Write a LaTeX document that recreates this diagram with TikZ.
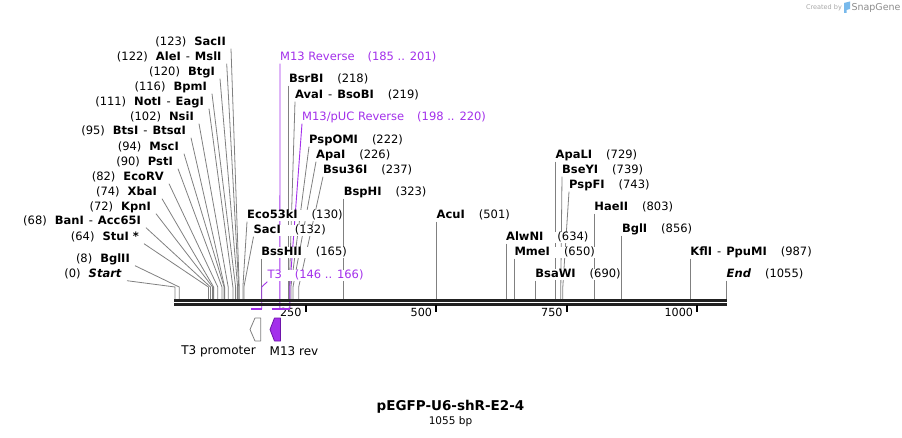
\documentclass[tikz,border=0pt]{standalone}
\usepackage{fontspec}
\setmainfont{DejaVu Sans}
\usetikzlibrary{calc}
\pgfdeclarelayer{bg}
\pgfsetlayers{bg,main}
\definecolor{primer}{RGB}{163,48,235}
\definecolor{primerdark}{RGB}{110,20,170}
\definecolor{sitegray}{RGB}{128,128,128}
\definecolor{snapblue}{RGB}{120,185,235}
\newcommand{\lsite}[2]{(#1)\hspace{8pt}\textbf{#2}}
\newcommand{\rsite}[2]{\textbf{#1}\hspace{14pt}(#2)}
\newcommand{\sdash}{\hspace{5pt}-\hspace{5pt}}

\begin{document}
\begin{tikzpicture}[x=1pt, y=-1pt, line join=round]
\tikzstyle{lab}=[inner sep=0, fill=white, yshift=-1pt, text height=8.5pt, text depth=2.5pt, font=\fontsize{11.5}{13}\selectfont]
\tikzstyle{labl}=[lab, anchor=east]
\tikzstyle{labr}=[lab, anchor=west]
\tikzstyle{plab}=[labr, text=primer]
\tikzstyle{cut}=[draw=sitegray, line width=0.8pt]
\tikzstyle{pline}=[draw=primer, line width=0.9pt]
\tikzstyle{pbar}=[draw=primer, line width=2.5pt]
\tikzstyle{dna}=[draw=black!87, line width=2.5pt]
\tikzstyle{tick}=[draw=black, line width=2pt]
\tikzstyle{ticklab}=[anchor=east, inner sep=0, xshift=-3pt, font=\fontsize{11.2}{13}\selectfont]
\tikzstyle{featlab}=[inner sep=0, font=\fontsize{12}{14}\selectfont]

\useasboundingbox (0,0) rectangle (902,438);

% sequence ends
\coordinate (s0) at (174,300.5);
\coordinate (s1) at (727,300.5);

% sites left of the fan
\node[labl] (SacII) at (226,42) {\lsite{123}{SacII}};
\node[labl] (AleI) at (221.7,57) {\lsite{122}{AleI}\sdash\textbf{MslI}};
\node[labl] (BtgI) at (215,72) {\lsite{120}{BtgI}};
\node[labl] (BpmI) at (207,87) {\lsite{116}{BpmI}};
\node[labl] (NotI) at (204,102) {\lsite{111}{NotI}\sdash\textbf{EagI}};
\node[labl] (NsiI) at (194,117) {\lsite{102}{NsiI}};
\node[labl] (BtsI) at (186,131) {\lsite{95}{BtsI}\sdash\textbf{BtsαI}};
\node[labl] (MscI) at (179,147) {\lsite{94}{MscI}};
\node[labl] (PstI) at (173,162) {\lsite{90}{PstI}};
\node[labl] (EcoRV) at (164,177) {\lsite{82}{EcoRV}};
\node[labl] (XbaI) at (157,192) {\lsite{74}{XbaI}};
\node[labl] (KpnI) at (151,207) {\lsite{72}{KpnI}};
\node[labl] (BanI) at (141,221) {\lsite{68}{BanI}\sdash\textbf{Acc65I}};
\node[labl] (StuI) at (139,237) {\lsite{64}{StuI *}};
\node[labl] (BglII) at (130,259) {\lsite{8}{BglII}};
\node[labl] (Start) at (122,274) {(0)\hspace{8pt}\textbf{\textit{Start}}};

\coordinate (SacII-t) at (239.2,287);
\coordinate (AleI-t) at (238.7,287);
\coordinate (BtgI-t) at (237.6,287);
\coordinate (BpmI-t) at (235.6,287);
\coordinate (NotI-t) at (232.9,287);
\coordinate (NsiI-t) at (228.2,287);
\coordinate (BtsI-t) at (224.6,287);
\coordinate (MscI-t) at (224.1,287);
\coordinate (PstI-t) at (222.0,287);
\coordinate (EcoRV-t) at (217.8,287);
\coordinate (XbaI-t) at (213.6,287);
\coordinate (KpnI-t) at (212.6,287);
\coordinate (BanI-t) at (210.5,287);
\coordinate (StuI-t) at (208.4,287);
\coordinate (BglII-t) at (179.2,287);
\coordinate (Start-t) at (175.0,287);

% sites right of the fan
\node[labr] (BsrBI) at (288.8,79) {\rsite{BsrBI}{218}};
\node[labr] (AvaI) at (295,95) {\textbf{AvaI}\sdash\textbf{BsoBI}\hspace{14pt}(219)};
\node[labr] (PspOMI) at (309,140) {\rsite{PspOMI}{222}};
\node[labr] (ApaI) at (316,155) {\rsite{ApaI}{226}};
\node[labr] (Bsu36I) at (323,170) {\rsite{Bsu36I}{237}};
\node[labr] (BspHI) at (343.6,192) {\rsite{BspHI}{323}};
\node[labr] (Eco53kI) at (247,215) {\rsite{Eco53kI}{130}};
\node[labr] (SacI) at (253.5,230) {\rsite{SacI}{132}};
\node[labr] (BssHII) at (261.1,252) {\rsite{BssHII}{165}};
\node[labr] (AcuI) at (436.5,215) {\rsite{AcuI}{501}};
\node[labr] (AlwNI) at (505.9,237) {\rsite{AlwNI}{634}};
\node[labr] (MmeI) at (514.3,252) {\rsite{MmeI}{650}};
\node[labr] (BsaWI) at (535.2,274) {\rsite{BsaWI}{690}};
\node[labr] (ApaLI) at (555.5,155) {\rsite{ApaLI}{729}};
\node[labr] (BseYI) at (562,170) {\rsite{BseYI}{739}};
\node[labr] (PspFI) at (569,185) {\rsite{PspFI}{743}};
\node[labr] (HaeII) at (594.2,207) {\rsite{HaeII}{803}};
\node[labr] (BglI) at (621.8,229) {\rsite{BglI}{856}};
\node[labr] (KflI) at (690.2,252) {\textbf{KflI}\sdash\textbf{PpuMI}\hspace{14pt}(987)};
\node[labr] (End) at (726.5,274) {\rsite{\textit{End}}{1055}};

\coordinate (AvaI-t) at (289.3,287);
\coordinate (PspOMI-t) at (290.9,287);
\coordinate (ApaI-t) at (293.0,287);
\coordinate (Bsu36I-t) at (298.7,287);
\coordinate (Eco53kI-t) at (242.9,287);
\coordinate (SacI-t) at (243.9,287);
\coordinate (BseYI-t) at (560.8,287);
\coordinate (PspFI-t) at (562.8,287);

% primers
\node[plab] (M13R) at (280,57) {M13 Reverse\hspace{13pt}(185 .. 201)};
\node[plab] (M13pUC) at (302,117) {M13/pUC Reverse\hspace{13pt}(198 .. 220)};
\node[plab] (T3) at (267.3,275) {T3\hspace{13pt}(146 .. 166)};

\coordinate (M13R-s) at (271.6,309);
\coordinate (M13R-e) at (279.9,309);
\coordinate (M13pUC-s) at (278.4,309);
\coordinate (M13pUC-e) at (289.8,309);
\coordinate (M13pUC-t) at (289.8,287);
\coordinate (T3-s) at (251.2,309);
\coordinate (T3-e) at (261.7,309);
\coordinate (T3-t) at (261.7,287);

\begin{pgfonlayer}{bg}
\draw[cut] ([xshift=5pt]SacII.south east) -- (SacII-t) -- (SacII-t |- s0);
\draw[cut] ([xshift=5pt]AleI.south east) -- (AleI-t) -- (AleI-t |- s0);
\draw[cut] ([xshift=5pt]BtgI.south east) -- (BtgI-t) -- (BtgI-t |- s0);
\draw[cut] ([xshift=5pt]BpmI.south east) -- (BpmI-t) -- (BpmI-t |- s0);
\draw[cut] ([xshift=5pt]NotI.south east) -- (NotI-t) -- (NotI-t |- s0);
\draw[cut] ([xshift=5pt]NsiI.south east) -- (NsiI-t) -- (NsiI-t |- s0);
\draw[cut] ([xshift=5pt]BtsI.south east) -- (BtsI-t) -- (BtsI-t |- s0);
\draw[cut] ([xshift=5pt]MscI.south east) -- (MscI-t) -- (MscI-t |- s0);
\draw[cut] ([xshift=5pt]PstI.south east) -- (PstI-t) -- (PstI-t |- s0);
\draw[cut] ([xshift=5pt]EcoRV.south east) -- (EcoRV-t) -- (EcoRV-t |- s0);
\draw[cut] ([xshift=5pt]XbaI.south east) -- (XbaI-t) -- (XbaI-t |- s0);
\draw[cut] ([xshift=5pt]KpnI.south east) -- (KpnI-t) -- (KpnI-t |- s0);
\draw[cut] ([xshift=5pt]BanI.south east) -- (BanI-t) -- (BanI-t |- s0);
\draw[cut] ([xshift=5pt]StuI.south east) -- (StuI-t) -- (StuI-t |- s0);
\draw[cut] ([xshift=5pt]BglII.south east) -- (BglII-t) -- (BglII-t |- s0);
\draw[cut] ([xshift=5pt]Start.south east) -- (Start-t) -- (Start-t |- s0);

\draw[cut] (BsrBI.south west) -- (BsrBI.south west |- s0);
\draw[cut] (AvaI.south west) -- (AvaI-t) -- (AvaI-t |- s0);
\draw[cut] (PspOMI.south west) -- (PspOMI-t) -- (PspOMI-t |- s0);
\draw[cut] (ApaI.south west) -- (ApaI-t) -- (ApaI-t |- s0);
\draw[cut] (Bsu36I.south west) -- (Bsu36I-t) -- (Bsu36I-t |- s0);
\draw[cut] (BspHI.south west) -- (BspHI.south west |- s0);
\draw[cut] (Eco53kI.south west) -- (Eco53kI-t) -- (Eco53kI-t |- s0);
\draw[cut] (SacI.south west) -- (SacI-t) -- (SacI-t |- s0);
\draw[cut] (BssHII.south west) -- (BssHII.south west |- s0);
\draw[cut] (AcuI.south west) -- (AcuI.south west |- s0);
\draw[cut] (AlwNI.south west) -- (AlwNI.south west |- s0);
\draw[cut] (MmeI.south west) -- (MmeI.south west |- s0);
\draw[cut] (BsaWI.south west) -- (BsaWI.south west |- s0);
\draw[cut] (ApaLI.south west) -- (ApaLI.south west |- s0);
\draw[cut] (BseYI.south west) -- (BseYI-t) -- (BseYI-t |- s0);
\draw[cut] (PspFI.south west) -- (PspFI-t) -- (PspFI-t |- s0);
\draw[cut] (HaeII.south west) -- (HaeII.south west |- s0);
\draw[cut] (BglI.south west) -- (BglI.south west |- s0);
\draw[cut] (KflI.south west) -- (KflI.south west |- s0);
\draw[cut] (End.south west) -- (End.south west |- s0);

\draw[pline] (M13R.south west) -- (M13R-e);
\draw[pline] (M13pUC.south west) -- (M13pUC-t) -- (M13pUC-e);
\draw[pline] (T3.south west) -- (T3-t) -- (T3-e);
\end{pgfonlayer}

% the sequence
\draw[dna] (s0) -- (s1);
\draw[dna] ([yshift=-4pt]s0) -- ([yshift=-4pt]s1);

\draw[tick] (305.5,305.5) -- (305.5,312) node[ticklab] {250};
\draw[tick] (436,305.5) -- (436,312) node[ticklab] {500};
\draw[tick] (566.5,305.5) -- (566.5,312) node[ticklab] {750};
\draw[tick] (697,305.5) -- (697,312) node[ticklab] {1000};

\draw[pbar] (M13R-s) -- (M13R-e);
\draw[pbar] (M13pUC-s) -- (M13pUC-e);
\draw[pbar] (T3-s) -- (T3-e);

% features
\draw[draw=sitegray, fill=white, line width=0.8pt] (250,329.5) -- (255,318) -- (260.7,318) -- (260.7,341) -- (255,341) -- cycle;
\draw[draw=primerdark, fill=primer, line width=0.8pt] (270,329.5) -- (274.5,318) -- (280.5,318) -- (280.5,341) -- (274.5,341) -- cycle;
\node[featlab] (T3prom) at (218.5,351) {T3 promoter};
\node[featlab] (M13rev) at (294,351) {M13 rev};

% title
\node[inner sep=0, font=\fontsize{13.5}{16}\selectfont\bfseries] (title) at (450.5,407) {pEGFP-U6-shR-E2-4};
\node[inner sep=0, font=\fontsize{10.5}{12}\selectfont] (size) at (450.5,422) {1055 bp};

% mark
\node[inner sep=0, text=black!35, font=\fontsize{6.5}{8}\selectfont] (created) at (824,7.5) {Created by};
\fill[snapblue] (844,3) -- (850,1.5) -- (850,9) -- (846.5,10) -- (846.5,13) -- (844,13) -- cycle;
\node[inner sep=0, text=black!45, font=\fontsize{9.5}{11}\selectfont] (snapgene) at (876,7.5) {SnapGene};
\end{tikzpicture}
\end{document}
